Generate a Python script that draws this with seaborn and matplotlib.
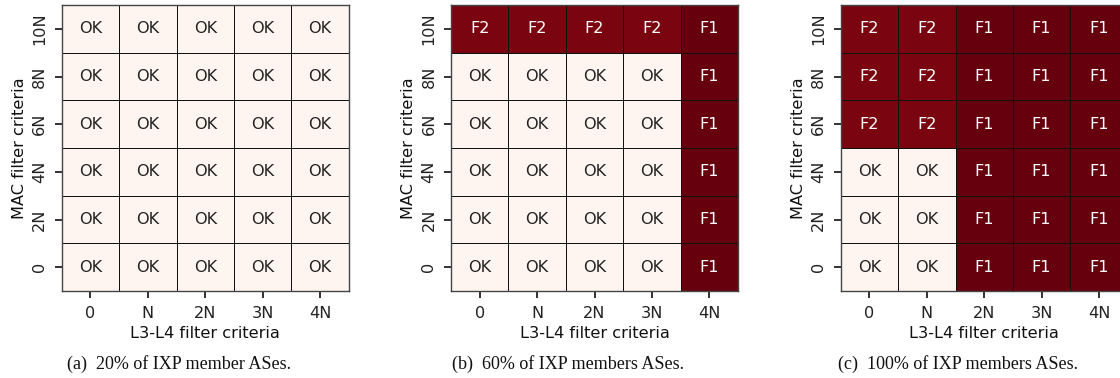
import numpy as np
import pandas as pd
import matplotlib
matplotlib.use("Agg")
import matplotlib.pyplot as plt
import seaborn as sns

# Data
l34_labels = ["0", "N", "2N", "3N", "4N"]
mac_labels = ["10N", "8N", "6N", "4N", "2N", "0"]  # top to bottom
captions = ["(a)  20% of IXP member ASes.",
            "(b)  60% of IXP members ASes.",
            "(c)  100% of IXP members ASes."]

status_a = [
    ["OK", "OK", "OK", "OK", "OK"],
    ["OK", "OK", "OK", "OK", "OK"],
    ["OK", "OK", "OK", "OK", "OK"],
    ["OK", "OK", "OK", "OK", "OK"],
    ["OK", "OK", "OK", "OK", "OK"],
    ["OK", "OK", "OK", "OK", "OK"],
]
status_b = [
    ["F2", "F2", "F2", "F2", "F1"],
    ["OK", "OK", "OK", "OK", "F1"],
    ["OK", "OK", "OK", "OK", "F1"],
    ["OK", "OK", "OK", "OK", "F1"],
    ["OK", "OK", "OK", "OK", "F1"],
    ["OK", "OK", "OK", "OK", "F1"],
]
status_c = [
    ["F2", "F2", "F1", "F1", "F1"],
    ["F2", "F2", "F1", "F1", "F1"],
    ["F2", "F2", "F1", "F1", "F1"],
    ["OK", "OK", "F1", "F1", "F1"],
    ["OK", "OK", "F1", "F1", "F1"],
    ["OK", "OK", "F1", "F1", "F1"],
]
status_value = {"OK": 0.0, "F2": 2.88, "F1": 3.0}

sns.set_theme(style="ticks")
plt.rcParams["font.family"] = ["DejaVu Sans"]

fig = plt.figure(figsize=(11.2, 3.78), dpi=100)
lefts = [61.7 / 1120, 451 / 1120, 840.7 / 1120]
w = 287 / 1120
bottom = 1 - 291 / 378
h = 286 / 378
fs = 11.6

for left, status, cap in zip(lefts, [status_a, status_b, status_c], captions):
    ax = fig.add_axes([left, bottom, w, h])
    vals = pd.DataFrame([[status_value[s] for s in row] for row in status],
                        index=mac_labels, columns=l34_labels)
    annot = np.array(status)
    sns.heatmap(vals, ax=ax, cmap="Reds", vmin=0, vmax=3, cbar=False,
                annot=annot, fmt="", linewidths=0.7, linecolor="#111111",
                annot_kws={"fontsize": fs})
    for t in ax.texts:
        if t.get_text() == "OK":
            t.set_color("#222222")
        else:
            t.set_color("white")
    ax.set_xlabel("L3-L4 filter criteria", fontsize=fs, color="#111111",
                  labelpad=4)
    ax.set_ylabel("MAC filter criteria", fontsize=fs, color="#111111")
    ax.tick_params(axis="both", labelsize=fs, length=5, width=1.3,
                   colors="#222222", pad=5.5)
    ax.set_yticklabels(mac_labels, rotation=90, va="center")
    ax.set_xticklabels(l34_labels, rotation=0)
    for s in ax.spines.values():
        s.set_visible(True)
        s.set_color("#444444")
        s.set_linewidth(1.0)
    fig.text(left + w / 2 - 26 / 1120, 1 - 364 / 378, cap, ha="center",
             va="center", fontsize=13, family="Liberation Serif",
             color="#111111")

fig.savefig("out.png", dpi=100)
